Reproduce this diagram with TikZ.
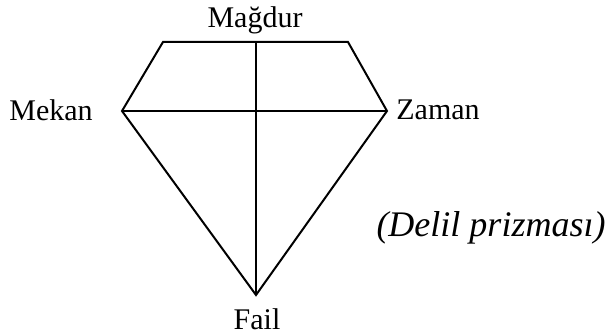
\documentclass[tikz,border=0pt]{standalone}
\usepackage{fontspec}
\setmainfont{Liberation Serif}
\usepackage{tikz}
\usetikzlibrary{positioning}

\begin{document}
\begin{tikzpicture}[x=0.5pt,y=0.5pt,
  edge/.style={line width=1pt,line join=miter},
  lbl/.style={inner sep=0pt,font=\fontsize{15}{18}\selectfont}]
\useasboundingbox (0,0) rectangle (610,336);
% corners of the prism
\coordinate (TL) at (163,294);
\coordinate (TR) at (348,294);
\coordinate (T) at (256,294);
\coordinate (L) at (122,225);
\coordinate (R) at (387,225);
\coordinate (B) at (256,41);
% labels
\node[lbl] at (255,316) (Magdur) {Mağdur};
\node[lbl] at (51,226) (Mekan) {Mekan};
\node[lbl] at (438,226) (Zaman) {Zaman};
\node[lbl] at (257,17) (Fail) {Fail};
\node[lbl,font=\fontsize{18}{21}\selectfont\itshape] at (491,108) (Delil) {(Delil prizması)};
\draw[edge] (L) -- (TL) -- (TR) -- (R) -- (B) -- cycle;
\draw[edge] (L) -- (R);
\draw[edge] (T) -- (B);
\end{tikzpicture}
\end{document}
